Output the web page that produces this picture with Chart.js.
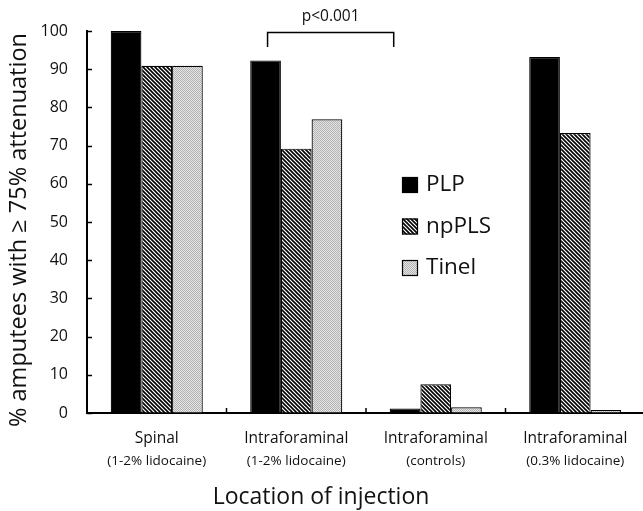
<!DOCTYPE html>
<html><head><meta charset="utf-8">
<script src="https://cdn.jsdelivr.net/npm/chart.js@4/dist/chart.umd.min.js"></script>
<style>html,body{margin:0;padding:0;overflow:hidden;background:#fff}#wrap{width:648px;height:511px;position:relative}</style>
</head><body><div id="wrap"><canvas id="c"></canvas></div>
<script>
const categories = ['Spinal', 'Intraforaminal', 'Intraforaminal', 'Intraforaminal'];
const subLabels = ['(1-2% lidocaine)', '(1-2% lidocaine)', '(controls)', '(0.3% lidocaine)'];
const seriesNames = ['PLP', 'npPLS', 'Tinel'];
const plp = [100, 92.3, 1.2, 93.2];
const npPLS = [90.9, 69.2, 7.5, 73.3];
const tinel = [90.9, 76.9, 1.5, 0.8];
const yTicks = [0, 10, 20, 30, 40, 50, 60, 70, 80, 90, 100];
const yTitle = '% amputees with \u2265 75% attenuation';
const xTitle = 'Location of injection';
const sigLabel = 'p<0.001';

function hatchPattern() {
  const t = document.createElement('canvas'); t.width = 4; t.height = 4;
  const g = t.getContext('2d');
  g.fillStyle = '#fff'; g.fillRect(0, 0, 4, 4);
  g.strokeStyle = '#000'; g.lineWidth = 1.6;
  for (let k = -1; k <= 1; k++) { g.beginPath(); g.moveTo(k * 4 - 1, -1); g.lineTo(k * 4 + 5, 5); g.stroke(); }
  return g.createPattern(t, 'repeat');
}
function dotPattern() {
  const t = document.createElement('canvas'); t.width = 2; t.height = 2;
  const g = t.getContext('2d');
  g.fillStyle = '#e6e6e6'; g.fillRect(0, 0, 2, 2);
  g.fillStyle = '#b2b2b2'; g.fillRect(0, 0, 1, 1); g.fillRect(1, 1, 1, 1);
  return g.createPattern(t, 'repeat');
}
const fills = ['#000', hatchPattern(), dotPattern()];
const FONT = 'Open Sans';
const TXT = '#111';

const annot = {
  id: 'annot',
  afterDraw(chart) {
    const c = chart.ctx, xs = chart.scales.x, ys = chart.scales.y, a = chart.chartArea;
    c.save();
    c.strokeStyle = '#000'; c.lineWidth = 1.5;
    yTicks.forEach(v => { const y = Math.round(ys.getPixelForValue(v)) + 0.5; c.beginPath(); c.moveTo(a.left, y); c.lineTo(a.left + 5, y); c.stroke(); });
    for (let i = 0; i < categories.length - 1; i++) {
      const x = (xs.getPixelForValue(i) + xs.getPixelForValue(i + 1)) / 2;
      c.beginPath(); c.moveTo(x, a.bottom); c.lineTo(x, a.bottom - 5); c.stroke();
    }
    c.fillStyle = TXT; c.textAlign = 'center'; c.textBaseline = 'middle';
    c.font = '13.5px "' + FONT + '"';
    subLabels.forEach((s, i) => c.fillText(s, xs.getPixelForValue(i), 461));
    c.font = '23px "' + FONT + '"';
    c.fillText(xTitle, 321, 497);
    c.save(); c.translate(19, 230); c.rotate(-Math.PI / 2);
    c.font = '23.5px "' + FONT + '"';
    c.fillText(yTitle, 0, 0); c.restore();
    const m = chart.getDatasetMeta(0);
    const b1 = m.data[1], b2 = m.data[2];
    const xl = b1.x + 2, xr = b2.x - b2.width * 0.37;
    const yt = ys.getPixelForValue(100) + 1.5, yb = ys.getPixelForValue(95.8);
    c.lineWidth = 1.5;
    c.beginPath(); c.moveTo(xl, yb); c.lineTo(xl, yt); c.lineTo(xr, yt); c.lineTo(xr, yb); c.stroke();
    c.font = '15.5px "' + FONT + '"';
    c.fillText(sigLabel, (xl + xr) / 2, 17);
    c.font = '22.5px "' + FONT + '"'; c.textAlign = 'left';
    seriesNames.forEach((n, i) => {
      const y = 185 + i * 41.5;
      c.fillStyle = fills[i]; c.fillRect(402, y - 8, 16, 16);
      c.lineWidth = 1.2; c.strokeStyle = '#000'; c.strokeRect(402.5, y - 7.5, 15, 15);
      c.fillStyle = TXT; c.fillText(n, 426, y);
    });
    c.restore();
  }
};

new Chart(document.getElementById('c'), {
  type: 'bar',
  data: {
    labels: categories,
    datasets: [plp, npPLS, tinel].map((d, i) => ({
      label: seriesNames[i], data: d, backgroundColor: fills[i],
      borderColor: '#000', borderWidth: 1.2,
      categoryPercentage: 0.66, barPercentage: 1.0
    }))
  },
  options: {
    responsive: true, maintainAspectRatio: false, animation: false,
    layout: { padding: { left: 0, top: 31, right: 3, bottom: 0 } },
    plugins: { legend: { display: false }, tooltip: { enabled: false } },
    scales: {
      x: {
        offset: true,
        grid: { display: true, drawOnChartArea: false, drawTicks: false },
        border: { display: true, color: '#000', width: 2 },
        ticks: { padding: 16, color: TXT, maxRotation: 0, font: { family: FONT, size: 15.5 } },
        afterFit(s) { s.height = 511 - 413; }
      },
      y: {
        min: 0, max: 100,
        grid: { display: true, drawOnChartArea: false, drawTicks: false },
        border: { display: true, color: '#000', width: 2 },
        ticks: { stepSize: 10, padding: 19, color: TXT, font: { family: FONT, size: 16 } },
        afterFit(s) { s.width = 87; }
      }
    }
  },
  plugins: [annot]
});
</script></body></html>
